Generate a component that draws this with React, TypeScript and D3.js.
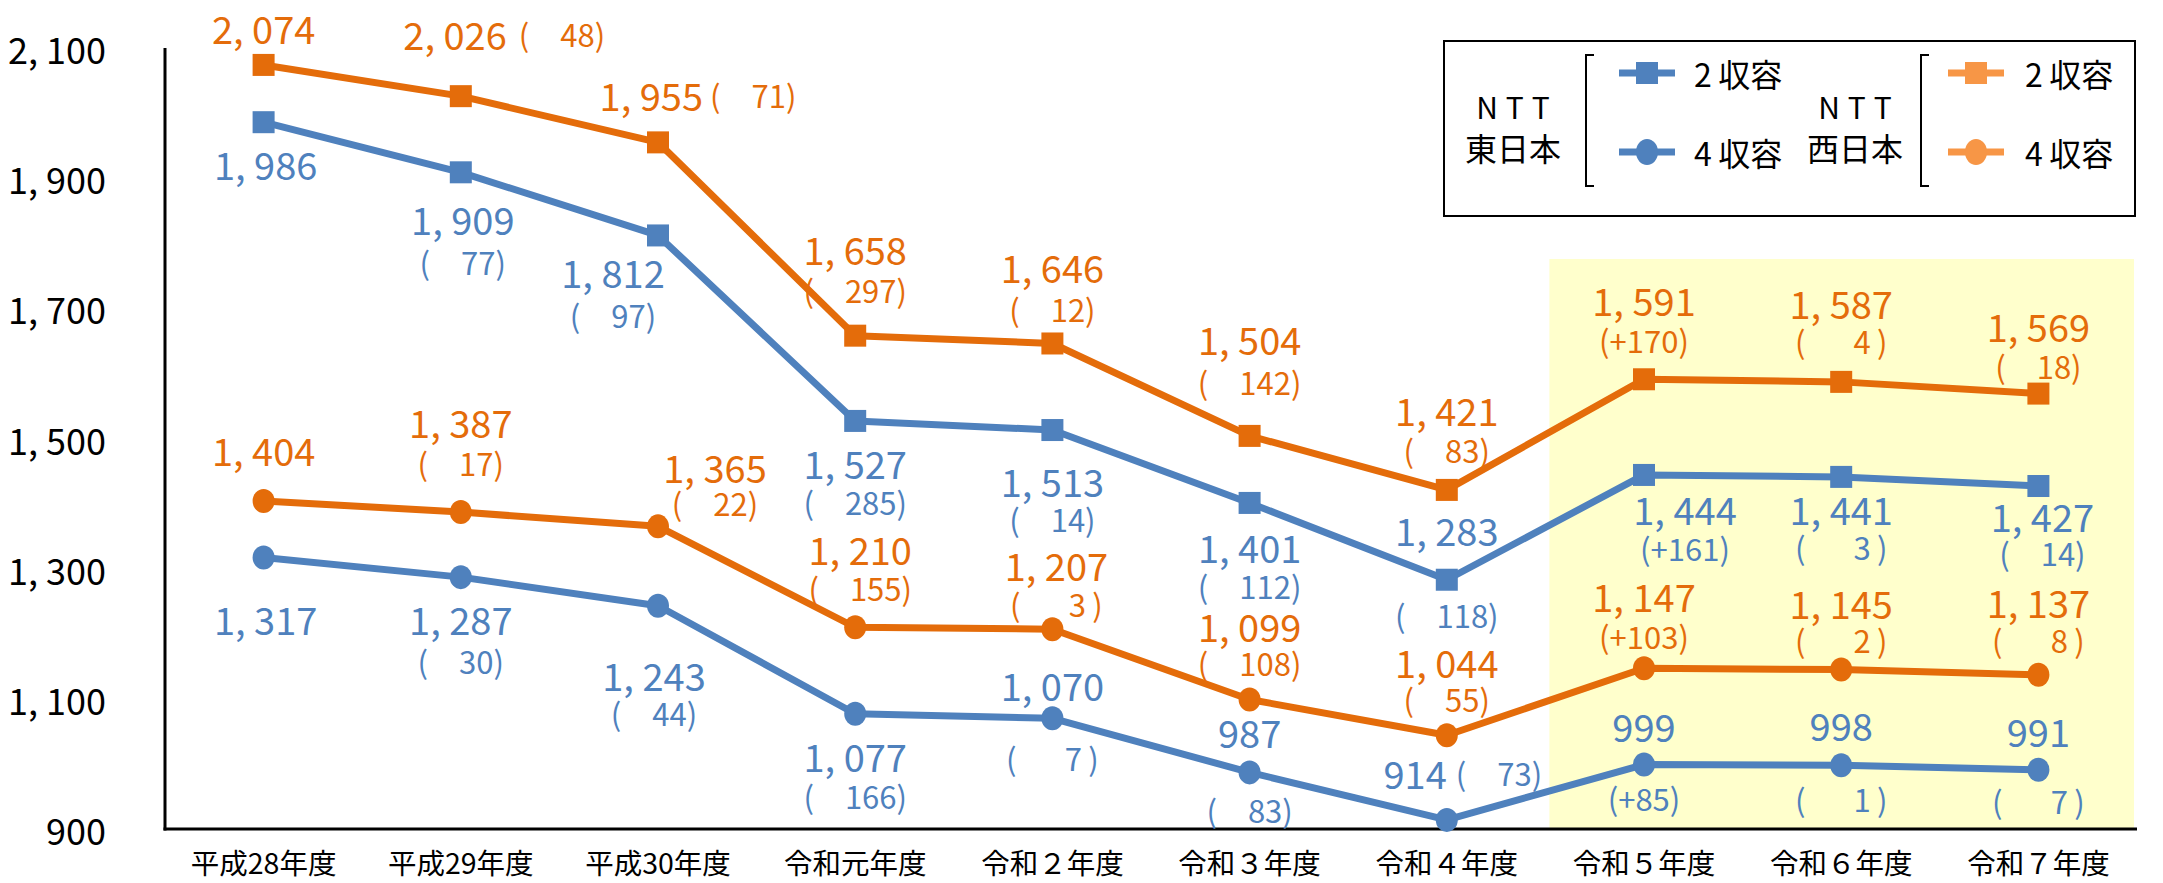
import React from "react";
import * as d3 from "d3";

// ---------- data ----------
const categories = [
  "平成28年度", "平成29年度", "平成30年度", "令和元年度", "令和２年度",
  "令和３年度", "令和４年度", "令和５年度", "令和６年度", "令和７年度",
];
const yTickValues = [900, 1100, 1300, 1500, 1700, 1900, 2100];

// NTT東日本 2収容 / 4収容, NTT西日本 2収容 / 4収容
const east2 = [1986, 1909, 1812, 1527, 1513, 1401, 1283, 1444, 1441, 1427];
const east2Diff = [null, -77, -97, -285, -14, -112, -118, 161, -3, -14];
const east4 = [1317, 1287, 1243, 1077, 1070, 987, 914, 999, 998, 991];
const east4Diff = [null, -30, -44, -166, -7, -83, -73, 85, -1, -7];
const west2 = [2074, 2026, 1955, 1658, 1646, 1504, 1421, 1591, 1587, 1569];
const west2Diff = [null, -48, -71, -297, -12, -142, -83, 170, -4, -18];
const west4 = [1404, 1387, 1365, 1210, 1207, 1099, 1044, 1147, 1145, 1137];
const west4Diff = [null, -17, -22, -155, -3, -108, -55, 103, -2, -8];

// ---------- label layout (offsets from the point, px) ----------
// stacked (mode 0): [dx, dyValue, dyDiff, 0]
// inline  (mode 1): [dxValueEnd, dy, dxDiffStart, 1]
const west2Layout = [
  [0, -37, 0, 0], [46, -63, 58, 1], [45, -48, 52, 1], [0, -87, -46, 0], [0, -77, -35, 0],
  [0, -97, -54, 0], [0, -80, -40, 0], [0, -80, -40, 0], [0, -79, -41, 0], [0, -68, -28, 0],
];
const east2Layout = [
  [2, 41, 0, 0], [2, 46, 89, 0], [-45, 36, 79, 0], [0, 42, 81, 0], [0, 50, 88, 0],
  [0, 44, 83, 0], [0, -50, 35, 0], [41, 34, 73, 0], [0, 32, 70, 0], [4, 29, 66, 0],
];
const west4Layout = [
  [0, -51, 0, 0], [0, -91, -50, 0], [57, -60, -24, 0], [5, -79, -40, 0], [4, -65, -26, 0],
  [0, -74, -37, 0], [0, -74, -37, 0], [0, -73, -33, 0], [0, -67, -30, 0], [0, -73, -35, 0],
];
const east4Layout = [
  [2, 61, 0, 0], [0, 41, 83, 0], [-4, 69, 107, 0], [0, 42, 82, 0], [0, -34, 39, 0],
  [0, -41, 37, 0], [0, -47, 9, 1], [0, -39, 33, 0], [0, -41, 33, 0], [0, -39, 31, 0],
];

const BLUE = "#4F81BD";
const ORANGE = "#E46C0A";
const ORANGE_LEGEND = "#F79646";
const FONT = "'Noto Sans CJK JP', 'Noto Sans', sans-serif";

const fmtNum = (v: number) => d3.format(",")(v).replace(",", ", ");
const fmtDiff = (d: number) => {
  if (d > 0) return `(+${d})`;
  const a = Math.abs(d);
  return a < 10 ? `(\u3000\u2007${a}\u2009)` : `(\u3000${a})`;
};

export default function App() {
  const W = 2163, H = 883;
  const x0 = 165, x1 = 2137, yTop = 48, yBottom = 829;

  const x = d3.scaleBand<string>().domain(categories).range([x0, x1]);
  const cx = (i: number) => (x(categories[i]) as number) + x.bandwidth() / 2;
  const y = d3.scaleLinear().domain([900, 2100]).range([yBottom, yTop]);
  const line = d3.line<number>().x((_, i) => cx(i)).y((d) => y(d));

  const series = [
    { values: west2, diffs: west2Diff, layout: west2Layout, color: ORANGE, shape: "square" },
    { values: east2, diffs: east2Diff, layout: east2Layout, color: BLUE, shape: "square" },
    { values: west4, diffs: west4Diff, layout: west4Layout, color: ORANGE, shape: "circle" },
    { values: east4, diffs: east4Diff, layout: east4Layout, color: BLUE, shape: "circle" },
  ];

  const hlStart = (x(categories[7]) as number) + 4;

  const valueSize = 38;
  const diffSize = 31;

  return (
    <svg width={W} height={H} style={{ position: "absolute", left: 0, top: 0, display: "block", background: "#fff" }}
      fontFamily={FONT}>
      {/* highlight */}
      <rect x={hlStart} y={259} width={x1 - hlStart - 3} height={yBottom - 259} fill="#FFFFCC" />

      {/* axes */}
      <line x1={x0} x2={x0} y1={yTop} y2={yBottom + 1.5} stroke="#000" strokeWidth={3} />
      <line x1={x0 - 1.5} x2={x1} y1={yBottom} y2={yBottom} stroke="#000" strokeWidth={3} />
      {yTickValues.map((t) => (
        <text key={t} x={106} y={y(t)} textAnchor="end" dominantBaseline="central" fontSize={36} fill="#000">
          {fmtNum(t)}
        </text>
      ))}
      {categories.map((c, i) => (
        <text key={c} x={cx(i)} y={861} textAnchor="middle" dominantBaseline="central" fontSize={28.5} fill="#000">
          {c}
        </text>
      ))}

      {/* lines */}
      {series.map((s, k) => (
        <path key={k} d={line(s.values) as string} fill="none" stroke={s.color} strokeWidth={7} strokeLinejoin="round" />
      ))}
      {/* markers */}
      {series.map((s, k) =>
        s.values.map((v, i) =>
          s.shape === "square" ? (
            <rect key={`${k}-${i}`} x={cx(i) - 11} y={y(v) - 11} width={22} height={22} fill={s.color} />
          ) : (
            <ellipse key={`${k}-${i}`} cx={cx(i)} cy={y(v)} rx={11} ry={12} fill={s.color} />
          )
        )
      )}

      {/* labels */}
      {series.map((s, k) =>
        s.values.map((v, i) => {
          const [a, b, c, mode] = s.layout[i];
          const px = cx(i);
          const py = y(v);
          const d = s.diffs[i];
          const valText = fmtNum(v);
          if (mode === 1) {
            return (
              <g key={`l${k}-${i}`}>
                <text x={px + a} y={py + b} textAnchor="end" dominantBaseline="central" fontSize={valueSize} fill={s.color}>
                  {valText}
                </text>
                {d !== null && (
                  <text x={px + c} y={py + b} textAnchor="start" dominantBaseline="central" fontSize={diffSize} fill={s.color}>
                    {fmtDiff(d)}
                  </text>
                )}
              </g>
            );
          }
          return (
            <g key={`l${k}-${i}`}>
              <text x={px + a} y={py + b} textAnchor="middle" dominantBaseline="central" fontSize={valueSize} fill={s.color}>
                {valText}
              </text>
              {d !== null && (
                <text x={px + a} y={py + c} textAnchor="middle" dominantBaseline="central" fontSize={diffSize} fill={s.color}>
                  {fmtDiff(d)}
                </text>
              )}
            </g>
          );
        })
      )}

      {/* legend */}
      <g>
        <rect x={1444} y={41} width={691} height={175} fill="#fff" stroke="#000" strokeWidth={2} />
        {[
          { cx: 1513, name: "東日本", bx: 1586, mx: 1647, tx: 1694, color: BLUE },
          { cx: 1855, name: "西日本", bx: 1921, mx: 1976, tx: 2025, color: ORANGE_LEGEND },
        ].map((g) => (
          <g key={g.name}>
            <text x={g.cx} y={106} textAnchor="middle" dominantBaseline="central" fontSize={30} letterSpacing={8}
              dx={4}>NTT</text>
            <text x={g.cx} y={147} textAnchor="middle" dominantBaseline="central" fontSize={32}>{g.name}</text>
            <path d={`M${g.bx + 8},55 H${g.bx} V186 H${g.bx + 8}`} fill="none" stroke="#000" strokeWidth={2} />
            <line x1={g.mx - 28} x2={g.mx + 28} y1={73} y2={73} stroke={g.color} strokeWidth={7} />
            <rect x={g.mx - 11} y={62} width={22} height={22} fill={g.color} />
            <line x1={g.mx - 28} x2={g.mx + 28} y1={152} y2={152} stroke={g.color} strokeWidth={7} />
            <ellipse cx={g.mx} cy={152} rx={11} ry={13} fill={g.color} />
            <text x={g.tx} y={73} dominantBaseline="central" fontSize={32}>2{"\u2009"}収容</text>
            <text x={g.tx} y={152} dominantBaseline="central" fontSize={32}>4{"\u2009"}収容</text>
          </g>
        ))}
      </g>
    </svg>
  );
}
